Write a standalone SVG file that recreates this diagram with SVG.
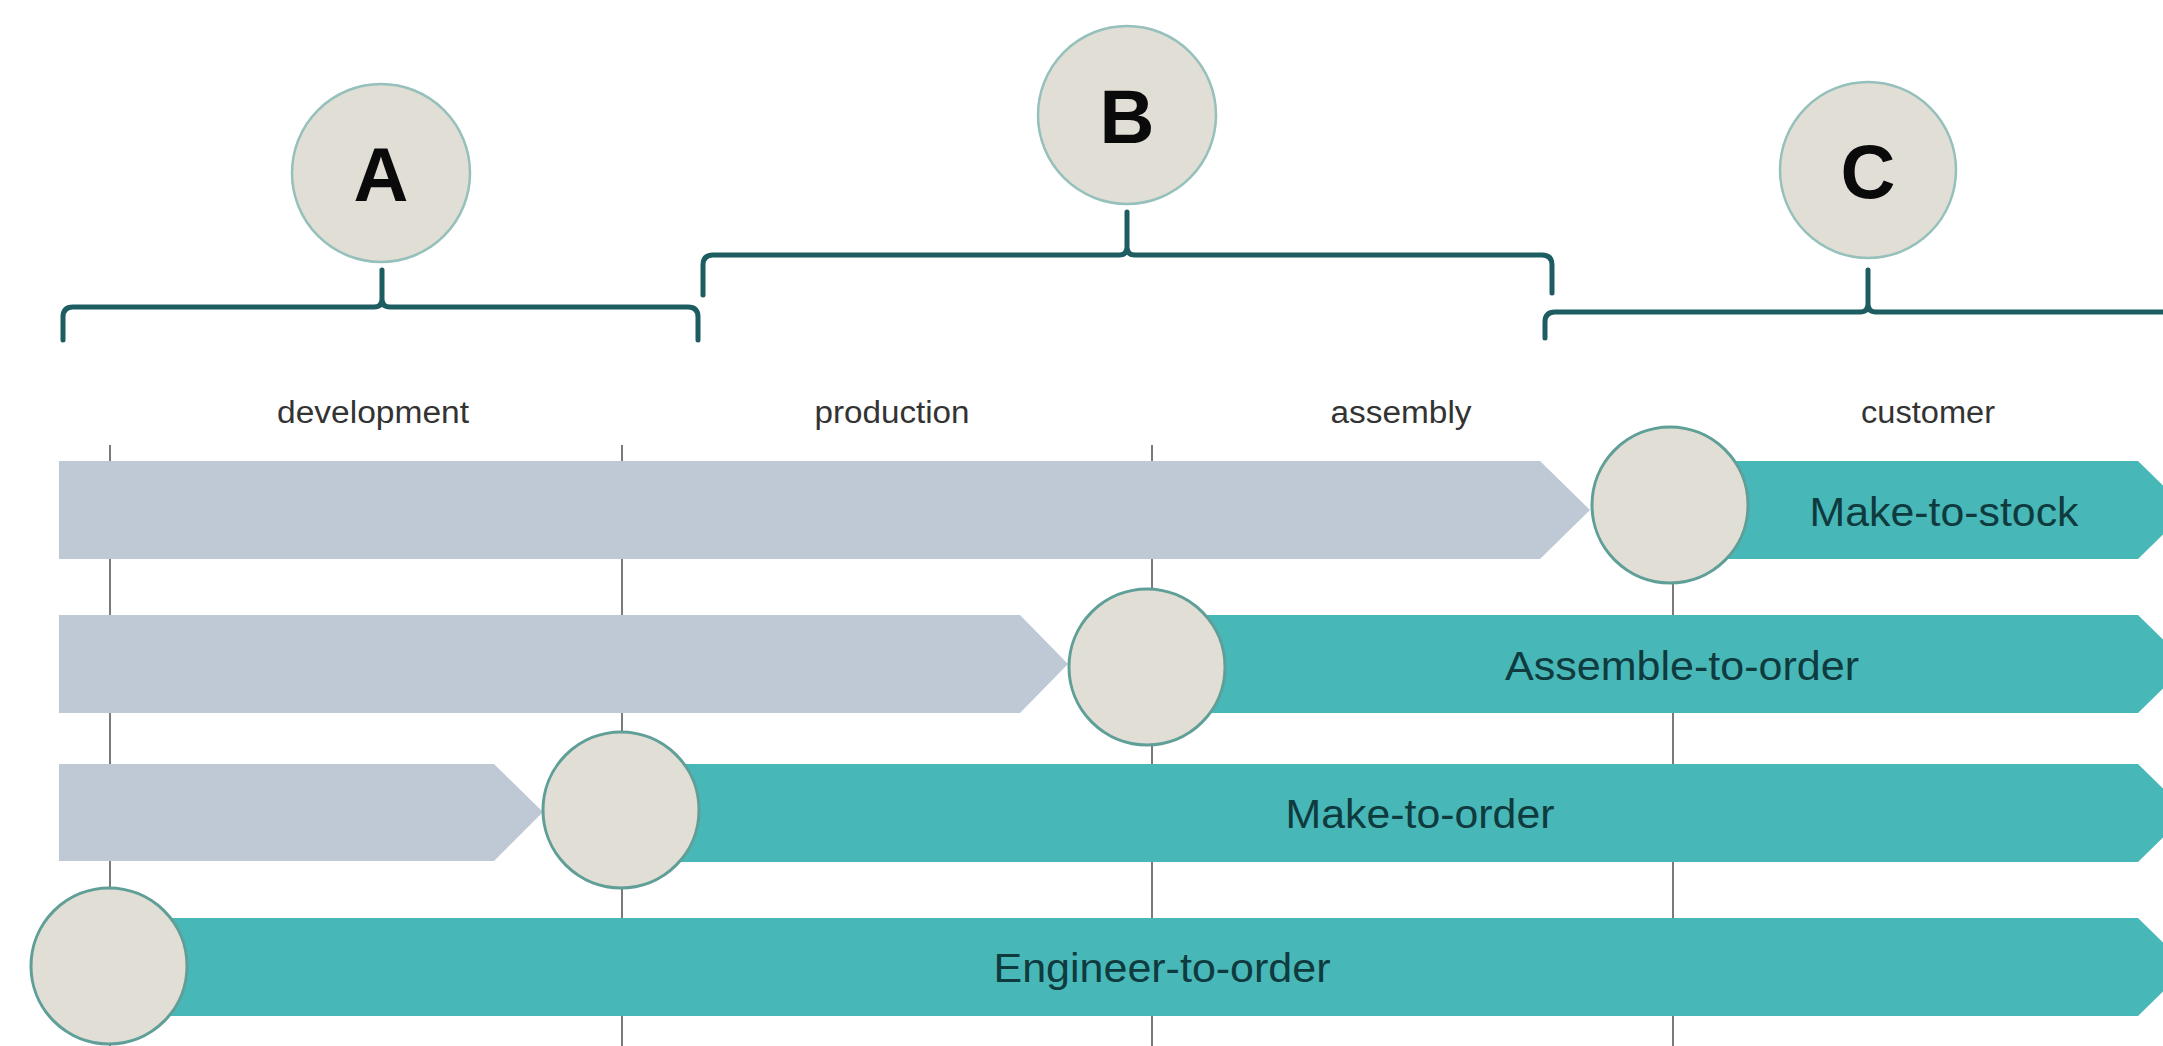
<svg xmlns="http://www.w3.org/2000/svg" width="2163" height="1046" viewBox="0 0 2163 1046">
<style>
.bracket{fill:none;stroke:#1d5c60;stroke-width:5;stroke-linecap:round;stroke-linejoin:round}
.vline{stroke:#7a7a7a;stroke-width:2}
.gray{fill:#bec9d5}
.teal{fill:#47b7b7}
.topc{fill:#e1ded6;stroke:#95c0bb;stroke-width:2.5}
.pt{fill:#e1ded6;stroke:#5f9f97;stroke-width:3}
.letter{font-family:"Liberation Sans",Arial,sans-serif;font-weight:bold;font-size:76px;fill:#0a0a0a;text-anchor:middle}
.hdr{font-family:"Liberation Sans",Arial,sans-serif;font-size:31px;fill:#333333;text-anchor:middle}
.lbl{font-family:"Liberation Sans",Arial,sans-serif;font-size:41px;fill:#0f3a3e;text-anchor:middle}
</style>
<rect width="2163" height="1046" fill="#ffffff"/>

<g id="phase-lines">
<line class="vline" x1="110" y1="445" x2="110" y2="1046"/>
<line class="vline" x1="622" y1="445" x2="622" y2="1046"/>
<line class="vline" x1="1152" y1="445" x2="1152" y2="1046"/>
<line class="vline" x1="1673" y1="445" x2="1673" y2="1046"/>
</g>

<g id="headers">
<text class="hdr" x="373" y="423" textLength="192" lengthAdjust="spacingAndGlyphs">development</text>
<text class="hdr" x="892" y="423" textLength="155" lengthAdjust="spacingAndGlyphs">production</text>
<text class="hdr" x="1401" y="423" textLength="141" lengthAdjust="spacingAndGlyphs">assembly</text>
<text class="hdr" x="1928" y="423" textLength="134" lengthAdjust="spacingAndGlyphs">customer</text>
</g>

<g id="connectors">
<path id="bracket-A" class="bracket" d="M63 340 L63 317 Q63 307 73 307 L374 307 Q382 307 382 299 L382 270 M382 299 Q382 307 390 307 L688 307 Q698 307 698 317 L698 340"/>
<path id="bracket-B" class="bracket" d="M703 295 L703 265 Q703 255 713 255 L1119 255 Q1127 255 1127 247 L1127 212 M1127 247 Q1127 255 1135 255 L1542 255 Q1552 255 1552 265 L1552 293"/>
<path id="bracket-C" class="bracket" d="M1545 338 L1545 322 Q1545 312 1555 312 L1860 312 Q1868 312 1868 304 L1868 270 M1868 304 Q1868 312 1876 312 L2170 312"/>
</g>

<g id="node-A">
<circle class="topc" cx="381" cy="173" r="89"/>
<text class="letter" x="381" y="201">A</text>
</g>
<g id="node-B">
<circle class="topc" cx="1127" cy="115" r="89"/>
<text class="letter" x="1127" y="143">B</text>
</g>
<g id="node-C">
<circle class="topc" cx="1868" cy="170" r="88"/>
<text class="letter" x="1868" y="198">C</text>
</g>

<g id="row-make-to-stock">
<polygon class="gray" points="59,461 1540,461 1590,510 1540,559 59,559"/>
<polygon class="teal" points="1670,461 2138,461 2188,510 2138,559 1670,559"/>
<circle class="pt" cx="1670" cy="505" r="78"/>
<text class="lbl" x="1944" y="526" textLength="269" lengthAdjust="spacingAndGlyphs">Make-to-stock</text>
</g>

<g id="row-assemble-to-order">
<polygon class="gray" points="59,615 1020,615 1068,664 1020,713 59,713"/>
<polygon class="teal" points="1147,615 2138,615 2188,664 2138,713 1147,713"/>
<circle class="pt" cx="1147" cy="667" r="78"/>
<text class="lbl" x="1682" y="680" textLength="354" lengthAdjust="spacingAndGlyphs">Assemble-to-order</text>
</g>

<g id="row-make-to-order">
<polygon class="gray" points="59,764 494,764 543,812 494,861 59,861"/>
<polygon class="teal" points="621,764 2138,764 2188,813 2138,862 621,862"/>
<circle class="pt" cx="621" cy="810" r="78"/>
<text class="lbl" x="1420" y="828" textLength="269" lengthAdjust="spacingAndGlyphs">Make-to-order</text>
</g>

<g id="row-engineer-to-order">
<polygon class="teal" points="109,918 2138,918 2188,967 2138,1016 109,1016"/>
<circle class="pt" cx="109" cy="966" r="78"/>
<text class="lbl" x="1162" y="982" textLength="337" lengthAdjust="spacingAndGlyphs">Engineer-to-order</text>
</g>
</svg>
